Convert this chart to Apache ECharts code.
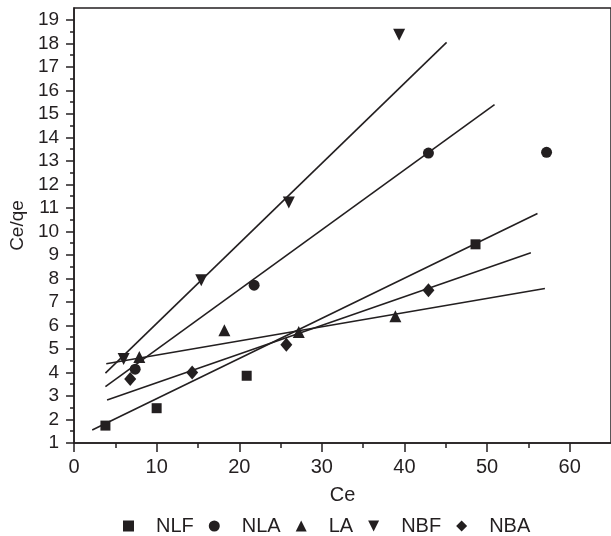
<!DOCTYPE html>
<html>
<head>
<meta charset="utf-8">
<script src="https://cdn.jsdelivr.net/npm/echarts@6/dist/echarts.min.js"></script>
<style>html,body{margin:0;padding:0;background:#fff}#c{width:611px;height:536px}</style>
</head>
<body>
<div id="c"></div>
<script>
// ---- data ----
var seriesNames = ['NLF', 'NLA', 'LA', 'NBF', 'NBA'];
var nlfPoints = [[3.8, 1.74], [10.0, 2.48], [20.9, 3.86], [48.6, 9.45]];
var nlaPoints = [[7.4, 4.14], [21.8, 7.71], [42.9, 13.33], [57.2, 13.36]];
var laPoints  = [[7.9, 4.66], [18.2, 5.79], [27.2, 5.72], [38.9, 6.39]];
var nbfPoints = [[6.0, 4.57], [15.4, 7.92], [26.0, 11.23], [39.35, 18.36]];
var nbaPoints = [[6.8, 3.72], [14.3, 4.0], [25.7, 5.18], [42.9, 7.5]];
// fitted lines (endpoints)
var nlfFit = [[2.2, 1.55], [56.1, 10.76]];
var nlaFit = [[3.8, 3.40], [50.9, 15.39]];
var laFit  = [[3.9, 4.37], [57.0, 7.57]];
var nbfFit = [[3.8, 3.97], [45.1, 18.04]];
var nbaFit = [[4.0, 2.83], [55.3, 9.09]];
// ticks
var xMajorTicks = [0, 10, 20, 30, 40, 50, 60];
var xMinorTicks = [5, 15, 25, 35, 45, 55];
var yMajorTicks = [1,2,3,4,5,6,7,8,9,10,11,12,13,14,15,16,17,18,19];
var yMinorTicks = [1.5,2.5,3.5,4.5,5.5,6.5,7.5,8.5,9.5,10.5,11.5,12.5,13.5,14.5,15.5,16.5,17.5,18.5];

var ink = '#231f20';
var font = 'Liberation Sans, Arial, sans-serif';
var chart = echarts.init(document.getElementById('c'), null, {renderer: 'canvas'});

var symbols = {
  NLF: {symbol: 'rect', size: 10, rotate: 0, icon: 'rect'},
  NLA: {symbol: 'circle', size: 11, rotate: 0, icon: 'circle'},
  LA:  {symbol: 'triangle', size: 12, rotate: 0, icon: 'triangle'},
  NBF: {symbol: 'triangle', size: 12, rotate: 180, icon: 'path://M0,0 L10,0 L5,10 Z'},
  NBA: {symbol: 'diamond', size: [12, 14], rotate: 0, icon: 'diamond'}
};
var pts = {NLF: nlfPoints, NLA: nlaPoints, LA: laPoints, NBF: nbfPoints, NBA: nbaPoints};
var fits = {NLF: nlfFit, NLA: nlaFit, LA: laFit, NBF: nbfFit, NBA: nbaFit};

var series = [];
seriesNames.forEach(function (n) {
  series.push({
    name: n + ' fit', type: 'line', data: fits[n], symbol: 'none',
    lineStyle: {color: ink, width: 1.6}, silent: true, z: 1
  });
});
seriesNames.forEach(function (n) {
  var s = symbols[n];
  series.push({
    name: n, type: 'scatter', data: pts[n], symbol: s.symbol, symbolSize: s.size,
    symbolRotate: s.rotate, itemStyle: {color: ink, opacity: 1}, z: 3
  });
});

var baseAxisLine = {show: true, lineStyle: {color: ink, width: 1.5}};

chart.setOption({
  animation: false,
  backgroundColor: '#fff',
  grid: {left: 73, right: -3, top: 8, bottom: 93, show: true, borderColor: ink, borderWidth: 1.5, backgroundColor: 'transparent'},
  legend: {
    data: seriesNames.map(function (n) {
      return {name: n, icon: symbols[n].icon, symbolRotate: 0, itemStyle: {color: ink, opacity: 1}};
    }),
    symbolRotate: 0,
    left: 118, top: 511, itemWidth: 11, itemHeight: 11, itemGap: 15,
    textStyle: {fontFamily: font, fontSize: 20, color: ink, padding: [0, 0, 0, 17]}
  },
  xAxis: [{
    type: 'value', min: 0, max: 65, interval: 10,
    name: 'Ce', nameLocation: 'middle', nameGap: 42,
    nameTextStyle: {fontFamily: font, fontSize: 20, color: ink},
    axisLine: baseAxisLine,
    axisTick: {show: true, inside: false, length: 9, customValues: xMajorTicks, lineStyle: {color: ink, width: 1.5}},
    axisLabel: {customValues: xMajorTicks, fontFamily: font, fontSize: 20, color: ink, margin: 14},
    splitLine: {show: false}
  }, {
    type: 'value', min: 0, max: 65, position: 'bottom',
    axisLine: {show: false},
    axisTick: {show: true, inside: false, length: 5, customValues: xMinorTicks, lineStyle: {color: ink, width: 1.5}},
    axisLabel: {show: false}, splitLine: {show: false}
  }],
  yAxis: [{
    type: 'value', min: 1, max: 19.5, interval: 1,
    name: 'Ce/qe', nameLocation: 'middle', nameGap: 47,
    nameTextStyle: {fontFamily: font, fontSize: 19, color: ink},
    axisLine: baseAxisLine,
    axisTick: {show: true, inside: false, length: 8, customValues: yMajorTicks, lineStyle: {color: ink, width: 1.5}},
    axisLabel: {customValues: yMajorTicks, fontFamily: font, fontSize: 19, color: ink, margin: 15},
    splitLine: {show: false}
  }, {
    type: 'value', min: 1, max: 19.5, position: 'left',
    axisLine: {show: false},
    axisTick: {show: true, inside: false, length: 4, customValues: yMinorTicks, lineStyle: {color: ink, width: 1.5}},
    axisLabel: {show: false}, splitLine: {show: false}
  }],
  series: series
});
</script>
</body>
</html>
